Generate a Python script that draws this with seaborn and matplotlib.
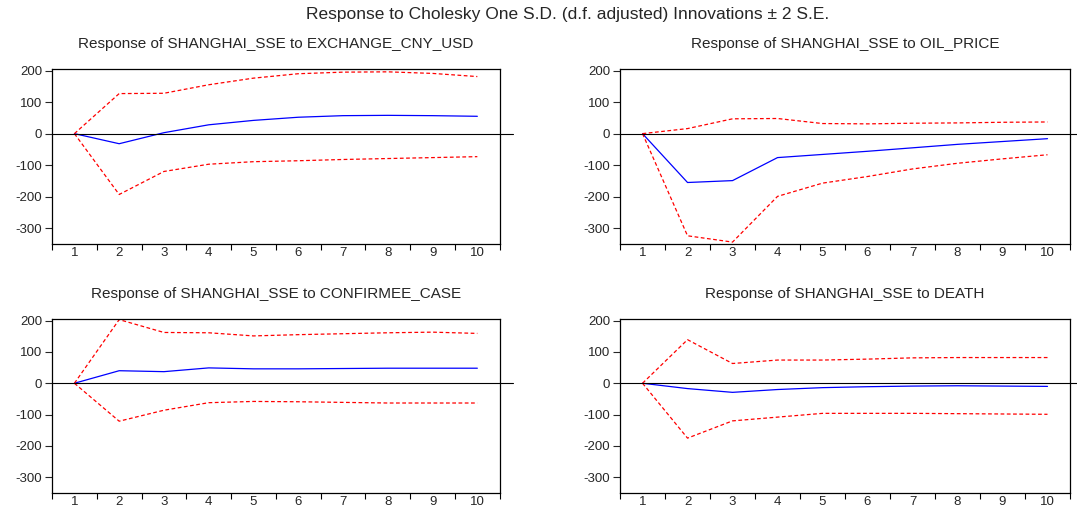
import matplotlib
matplotlib.use("Agg")
import matplotlib.pyplot as plt
import seaborn as sns
import pandas as pd

# impulse responses, periods 1..10
periods = list(range(1, 11))

exch_resp = [0, -32, 3, 28, 42, 52, 57, 58, 57, 55]
exch_upper = [0, 127, 128, 155, 176, 190, 195, 196, 191, 181]
exch_lower = [0, -193, -120, -97, -89, -86, -82, -79, -76, -73]

oil_resp = [0, -155, -149, -76, -66, -56, -45, -34, -25, -16]
oil_upper = [0, 16, 47, 48, 32, 31, 33, 34, 36, 37]
oil_lower = [0, -324, -344, -199, -157, -136, -112, -94, -80, -67]

conf_resp = [0, 40, 37, 49, 46, 46, 47, 48, 48, 48]
conf_upper = [0, 203, 162, 161, 151, 155, 158, 161, 163, 159]
conf_lower = [0, -121, -86, -62, -58, -59, -61, -63, -63, -63]

death_resp = [0, -17, -29, -20, -14, -11, -9, -8, -9, -10]
death_upper = [0, 139, 63, 74, 74, 77, 81, 82, 82, 82]
death_lower = [0, -175, -120, -108, -96, -96, -96, -97, -98, -99]

panel_titles = [
    "Response of SHANGHAI_SSE to EXCHANGE_CNY_USD",
    "Response of SHANGHAI_SSE to OIL_PRICE",
    "Response of SHANGHAI_SSE to CONFIRMEE_CASE",
    "Response of SHANGHAI_SSE to DEATH",
]
y_ticks = [200, 100, 0, -100, -200, -300]

panels = [
    (exch_resp, exch_upper, exch_lower),
    (oil_resp, oil_upper, oil_lower),
    (conf_resp, conf_upper, conf_lower),
    (death_resp, death_upper, death_lower),
]

sns.set_style("white")
plt.rcParams["font.family"] = ["Liberation Sans", "DejaVu Sans"]
plt.rcParams["axes.unicode_minus"] = False

fig = plt.figure(figsize=(10.77, 5.13), dpi=100)

# axes boxes in figure fractions (left, bottom, width, height)
boxes = [
    (0.0483, 0.5244, 0.4157, 0.3411),
    (0.5757, 0.5244, 0.4178, 0.3411),
    (0.0483, 0.0390, 0.4157, 0.3392),
    (0.5757, 0.0390, 0.4178, 0.3392),
]

for (resp, upper, lower), title, box in zip(panels, panel_titles, boxes):
    ax = fig.add_axes(box)
    df = pd.DataFrame({
        "period": periods * 3,
        "value": resp + upper + lower,
        "series": ["resp"] * 10 + ["upper"] * 10 + ["lower"] * 10,
    })
    sns.lineplot(data=df[df.series == "resp"], x="period", y="value",
                 color="blue", linewidth=0.9, ax=ax)
    for s in ["upper", "lower"]:
        sns.lineplot(data=df[df.series == s], x="period", y="value",
                     color="red", linewidth=0.9, linestyle=(0, (3, 2)), ax=ax)
    ax.axhline(0, xmin=0, xmax=1.03, color="black", linewidth=0.8, clip_on=False)

    ax.set_xlim(0.5, 10.5)
    ax.set_ylim(-350, 205)
    ax.set_xlabel("")
    ax.set_ylabel("")
    ax.set_yticks(y_ticks)
    ax.set_yticklabels([str(v) for v in y_ticks])
    # tick marks between periods, labels at the periods
    ax.set_xticks([p + 0.5 for p in [0] + periods])
    ax.set_xticklabels([])
    ax.set_xticks(periods, minor=True)
    ax.set_xticklabels([str(p) for p in periods], minor=True)
    ax.tick_params(axis="x", which="major", direction="out", length=4, width=0.8,
                   bottom=True, colors="black")
    ax.tick_params(axis="x", which="minor", length=0, pad=2, labelsize=9.5)
    ax.tick_params(axis="y", direction="out", length=5, width=0.8, left=True,
                   labelsize=9.5, pad=2)
    for sp in ax.spines.values():
        sp.set_color("black")
        sp.set_linewidth(0.9)
    ax.set_title(title, fontsize=11, pad=15)

fig.text(0.527, 0.971,
         "Response to Cholesky One S.D. (d.f. adjusted) Innovations \u00b1 2 S.E.",
         fontsize=12.5, ha="center", va="center")

fig.savefig("out.png", dpi=100)
